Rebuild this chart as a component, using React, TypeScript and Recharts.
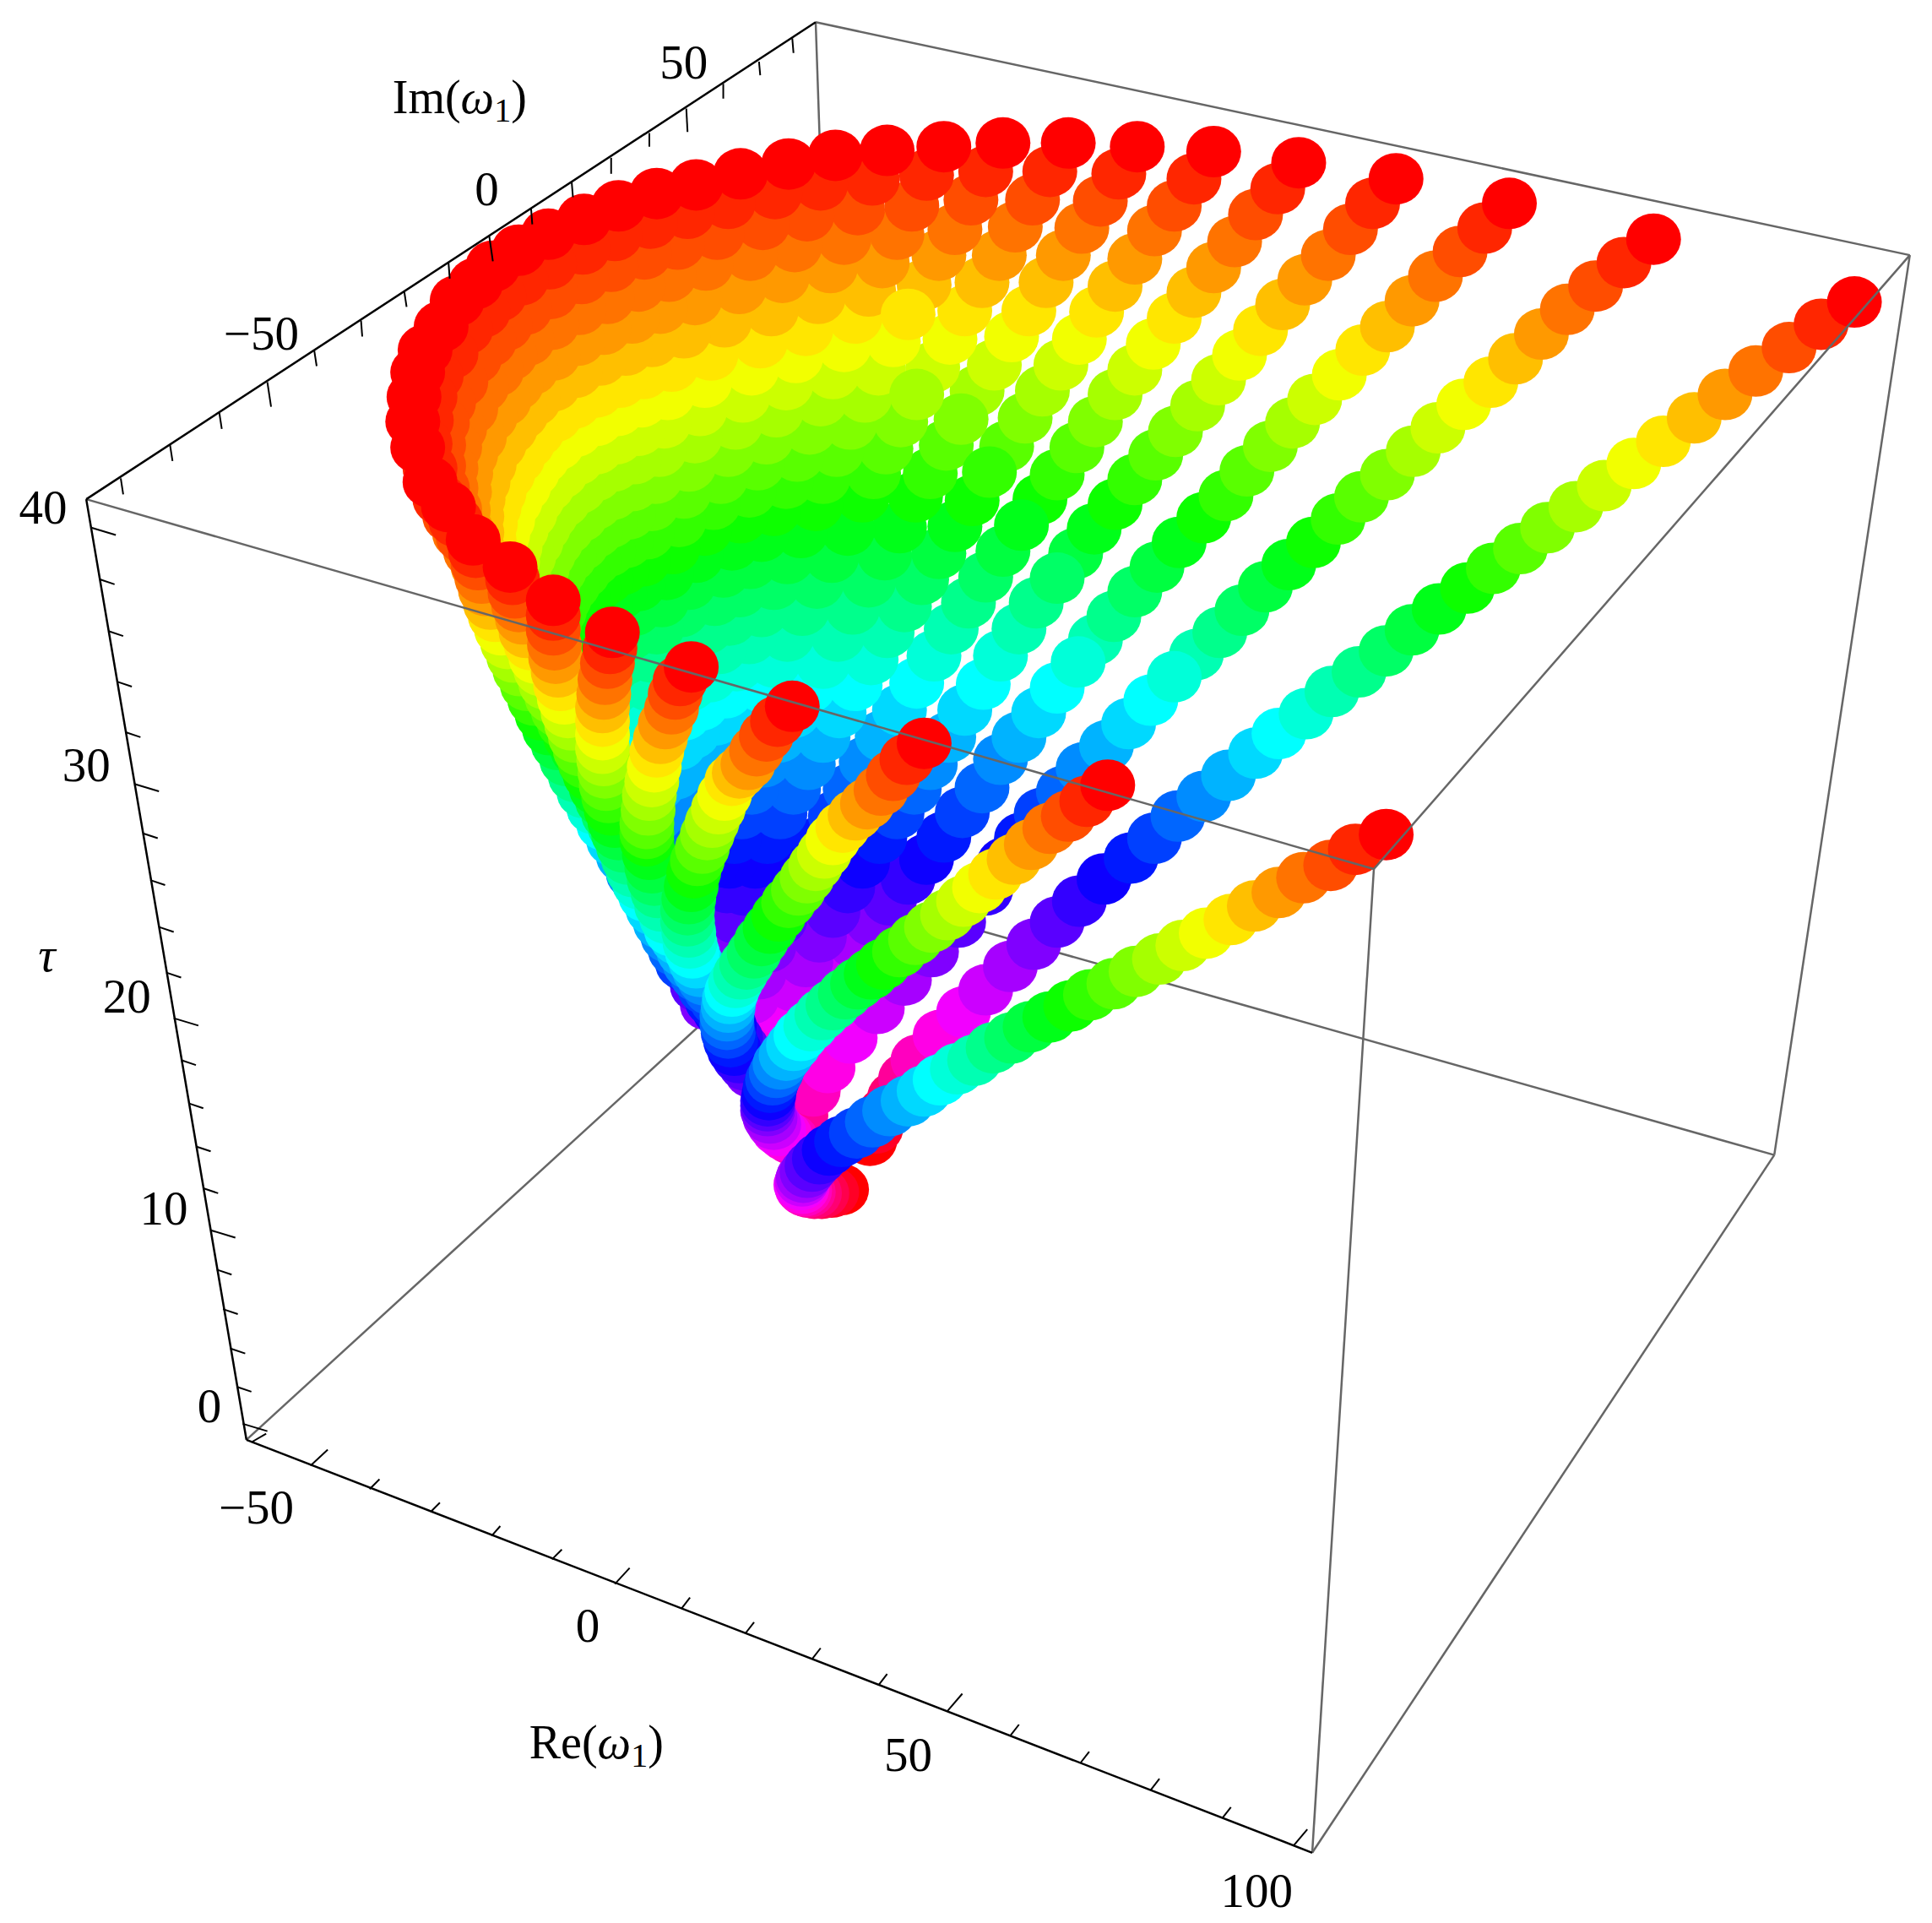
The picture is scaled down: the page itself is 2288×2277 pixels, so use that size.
import React from "react"
import { ScatterChart, Scatter, XAxis, YAxis } from "recharts"

// hue of a dot follows its place along a curve, tip (tau = 40) first
const huePalette = [
  "#ff0000", "#ff2600", "#ff4d00", "#ff7300", "#ff9900", "#ffbf00", "#ffe600", "#f2ff00", "#ccff00", "#a6ff00", "#80ff00",
  "#59ff00", "#33ff00", "#0dff00", "#00ff19", "#00ff40", "#00ff66", "#00ff8c", "#00ffb3", "#00ffd9", "#00ffff", "#00d9ff",
  "#00b3ff", "#008cff", "#0066ff", "#0040ff", "#0019ff", "#0d00ff", "#3300ff", "#5900ff", "#8000ff", "#a600ff", "#cc00ff",
  "#f200ff", "#ff00e6", "#ff00bf", "#ff0099", "#ff0073", "#ff004d", "#ff0026", "#ff0000",
]

type P = number[]

// projected positions, one list per trajectory
const r1: P[] = [[1505,245],[1478,263],[1452,282],[1425,301],[1400,320],[1375,339],[1350,358],[1326,376],[1302,394],[1279,411],[1256,428],[1234,445],[1212,461],[1191,477],[1168,494],[1146,511],[1125,528],[1103,545],[1081,561],[1060,579],[1038,595],[1019,611],[997,629],[977,646],[956,662],[937,680],[918,696],[896,713],[876,731],[858,748],[839,766],[820,784],[800,803],[782,821],[763,840],[745,860],[735,875],[726,890],[718,903],[711,915],[706,925]]
const b2: P[] = [[1342,194],[1318,213],[1295,232],[1272,251],[1251,271],[1230,291],[1210,310],[1188,328],[1167,347],[1147,366],[1126,385],[1105,403],[1086,421],[1066,440],[1046,458],[1027,476],[1008,495],[990,513],[971,531],[953,549],[934,568],[916,587],[898,605],[879,623],[863,642],[845,660],[829,680],[815,700],[800,722],[778,748],[756,772],[734,795],[712,818],[690,842],[672,866],[660,885],[650,905]]
const b3: P[] = [[1225,165],[1205,185],[1185,204],[1165,224],[1146,244],[1126,265],[1106,284],[1087,304],[1067,324],[1049,343],[1031,362],[1012,382],[995,402],[977,420],[957,440],[939,460],[921,480],[904,500],[889,519],[875,537],[858,558],[843,578],[827,598],[812,616],[797,639],[781,659],[766,679],[752,697],[737,713],[722,730],[708,747],[694,765],[680,783],[667,800],[655,818],[644,836],[635,854]]
const b4: P[] = [[1133,145],[1114,165],[1096,186],[1078,207],[1059,227],[1041,247],[1023,268],[1006,288],[989,308],[972,329],[954,350],[938,369],[921,389],[905,409],[888,429],[873,449],[858,469],[841,489],[827,510],[812,532],[798,555],[783,576],[770,598],[755,620],[742,640],[728,660],[714,680],[700,700],[688,720],[676,740],[665,760],[654,780],[644,800],[635,820],[628,840],[622,860]]
const b5: P[] = [[1054,132],[1037,153],[1019,174],[1002,196],[985,217],[969,237],[953,258],[936,279],[921,300],[905,320],[889,342],[874,363],[858,385],[844,405],[829,426],[814,447],[800,468],[786,489],[772,510],[758,532],[744,554],[730,576],[716,597],[703,618],[690,640],[678,662],[665,683],[654,704],[643,725],[633,746],[624,768],[616,790],[610,810]]
const b6: P[] = [[985,123],[969,145],[953,167],[937,187],[921,210],[905,232],[890,253],[876,275],[861,296],[846,317],[832,339],[817,362],[803,383],[789,406],[775,427],[762,449],[748,470],[734,492],[720,513],[707,535],[694,556],[681,578],[668,598],[656,620],[644,640],[633,660],[623,680],[613,700],[604,722],[597,745],[591,770],[590,790]]
const b7: P[] = [[923,119],[908,141],[893,163],[878,185],[863,207],[849,229],[835,252],[821,273],[807,296],[793,317],[780,340],[768,361],[755,384],[743,403],[730,428],[718,450],[705,472],[692,494],[680,516],[668,538],[656,558],[644,578],[632,598],[620,618],[610,640],[602,660],[596,680],[592,700],[590,720],[590,740]]
const b8: P[] = [[867,116],[852,139],[838,162],[824,184],[811,207],[797,229],[783,252],[771,275],[757,298],[744,320],[731,342],[719,364],[709,384],[700,403],[688,430],[675,452],[663,473],[651,495],[639,516],[628,537],[618,557],[607,578],[597,600],[589,620],[580,640],[575,660],[573,680],[578,700]]
const b9: P[] = [[814,116],[800,139],[788,162],[775,186],[762,207],[750,231],[737,255],[725,277],[713,300],[702,322],[690,344],[679,366],[668,388],[662,410],[650,432],[639,453],[628,474],[618,496],[608,518],[598,540],[589,562],[581,584],[574,606],[567,628],[561,650],[556,670]]
const b10: P[] = [[766,119],[752,142],[740,167],[728,190],[716,213],[705,236],[694,258],[685,281],[676,303],[666,325],[657,348],[647,370],[638,392],[628,414],[618,435],[609,457],[600,480],[592,503],[584,526],[576,549],[569,572],[562,595],[556,618],[551,641],[547,664],[544,686]]
const b11: P[] = [[720,122],[708,146],[696,170],[685,194],[674,217],[664,242],[654,268],[646,290],[638,312],[630,334],[622,356],[615,377],[608,399],[601,420],[594,442],[587,464],[580,487],[573,510],[566,533],[560,556],[555,580],[551,604],[548,628],[546,652],[545,675]]
const b12: P[] = [[678,126],[666,150],[655,175],[645,200],[635,225],[626,252],[617,278],[610,300],[603,322],[597,344],[591,366],[585,388],[579,409],[572,430],[565,452],[559,474],[553,496],[548,519],[543,542],[539,566],[536,590],[534,614],[533,638],[533,662]]
const b13: P[] = [[640,133],[629,157],[619,182],[609,207],[600,234],[588,261],[577,288],[572,310],[568,333],[564,355],[559,378],[555,400],[551,423],[546,445],[541,466],[537,488],[533,510],[529,533],[526,556],[524,580],[522,604],[521,628]]
const b14: P[] = [[601,141],[591,165],[582,190],[573,215],[564,243],[555,270],[545,297],[542,320],[539,343],[535,366],[532,388],[529,410],[525,433],[522,455],[518,475],[515,495],[511,515],[507,535],[504,555],[501,575],[498,595]]
const b15: P[] = [[565,150],[558,173],[550,198],[543,224],[536,250],[529,277],[522,303],[520,326],[518,349],[515,372],[513,394],[510,417],[508,440],[505,462],[503,482],[501,502],[499,522],[497,542],[495,562]]
const b16: P[] = [[533,157],[528,181],[523,206],[518,232],[513,258],[508,284],[503,310],[501,333],[500,356],[498,378],[497,401],[495,424],[494,447],[492,470],[491,490],[490,510],[489,530]]
const b17: P[] = [[502,167],[499,191],[496,216],[493,242],[490,267],[487,292],[484,318],[484,341],[484,364],[483,386],[483,409],[483,432],[482,455],[482,478],[482,498],[482,518]]
const b18: P[] = [[474,178],[473,202],[472,226],[470,251],[469,276],[467,302],[466,327],[467,350],[468,373],[470,396],[471,419],[472,442],[473,465],[474,488],[475,508]]
const b19: P[] = [[445,190],[446,214],[447,238],[448,263],[449,288],[449,313],[450,338],[452,361],[455,384],[457,407],[460,429],[462,452],[465,475],[467,498],[469,518]]
const b20: P[] = [[421,203],[423,227],[426,251],[428,276],[431,300],[433,325],[436,350],[440,372],[444,395],[447,418],[451,440],[454,463],[458,486],[462,508]]
const b21: P[] = [[400,216],[405,240],[410,264],[414,288],[419,312],[423,336],[428,360],[432,383],[436,405],[441,428],[445,450],[449,473],[454,496],[458,518]]
const b22: P[] = [[386,230],[392,253],[397,277],[403,301],[409,325],[414,348],[420,372],[425,395],[430,417],[435,440],[440,462],[445,485],[450,507],[455,530]]
const b23: P[] = [[371,244],[378,267],[385,291],[391,314],[398,338],[405,361],[412,385],[418,407],[423,430],[429,452],[435,475],[441,497],[446,520],[452,542]]
const b24: P[] = [[358,265],[366,287],[374,310],[382,332],[389,355],[397,377],[405,400],[412,422],[418,444],[425,466],[432,487],[439,509],[445,531],[452,553]]
const b25: P[] = [[345,284],[354,305],[364,327],[373,348],[382,369],[392,391],[401,412],[408,434],[416,456],[423,478],[430,500],[437,521],[445,543],[452,565]]
const b26: P[] = [[339,302],[349,322],[359,343],[369,363],[378,384],[388,405],[398,425],[406,446],[414,468],[422,489],[429,511],[437,532],[445,554],[453,575]]
const b27: P[] = [[336,322],[346,341],[356,361],[366,380],[377,399],[387,419],[397,438],[405,459],[414,480],[422,501],[430,522],[438,543],[447,564],[455,585]]
const b28: P[] = [[335,342],[345,360],[356,378],[366,396],[376,414],[387,432],[397,450],[405,470],[414,491],[423,511],[431,532],[440,552],[448,573],[456,593]]
const b29: P[] = [[339,363],[349,380],[359,396],[369,413],[378,429],[388,446],[398,462],[407,482],[415,501],[424,521],[432,541],[441,560],[449,580],[458,600]]
const b30: P[] = [[349,391],[357,405],[365,419],[373,433],[382,446],[390,460],[398,474],[407,493],[416,512],[425,531],[433,550],[442,569],[451,588],[460,607]]
const b31: P[] = [[364,411],[370,423],[376,436],[382,448],[388,460],[393,473],[399,485],[408,503],[417,521],[426,539],[435,557],[444,574],[453,592],[462,608]]
const f9: P[] = [[384,438],[386,448],[388,458],[391,469],[394,479],[398,490],[402,500],[407,511],[412,522],[417,533],[422,544],[428,556],[434,568],[440,580],[446,592],[453,604],[460,617],[467,630],[474,643],[482,656],[490,669],[498,682],[506,695],[514,709],[523,723],[532,738],[541,752],[550,768],[558,785],[566,800],[574,815]]
const f8: P[] = [[414,460],[416,470],[418,481],[421,492],[424,502],[427,513],[431,523],[435,534],[439,544],[443,555],[448,566],[453,577],[458,587],[463,598],[469,609],[475,620],[481,632],[487,643],[493,655],[500,667],[506,679],[513,691],[520,703],[527,715],[534,728],[541,740],[548,752]]
const f7: P[] = [[449,487],[449,499],[449,511],[450,523],[451,534],[453,545],[455,556],[458,567],[461,578],[464,588],[467,598],[471,609],[475,619],[479,629],[484,640],[489,650],[494,661],[499,671],[505,682],[511,693],[517,704],[523,714],[529,725],[535,736],[541,747],[547,758],[553,769]]
const f6: P[] = [[497,513],[495,526],[493,538],[491,551],[490,563],[489,574],[489,585],[489,596],[489,607],[490,617],[491,627],[492,637],[494,647],[496,657],[499,667],[502,677],[506,687],[510,697],[514,707],[519,717],[524,727],[530,738],[536,749],[542,760],[548,771],[554,782]]
const f5: P[] = [[561,541],[552,552],[548,563],[545,575],[540,587],[536,599],[533,610],[531,622],[529,634],[527,645],[526,657],[525,668],[525,676],[525,682],[527,693],[529,704],[531,714],[534,724],[537,735],[541,745],[545,755],[550,762],[555,772],[560,782],[566,792],[572,802],[578,812],[584,820]]
const f4: P[] = [[643,573],[631,585],[622,597],[614,609],[607,620],[600,627],[594,633],[588,645],[583,656],[578,667],[574,677],[570,688],[566,698],[563,708],[561,719],[559,729],[558,738],[558,747],[559,756],[560,765],[562,773],[565,781],[568,788],[572,795],[577,803],[582,812],[587,822],[592,832],[597,842],[602,850]]
const f3: P[] = [[750,603],[736,616],[725,629],[715,641],[704,652],[694,661],[684,671],[676,681],[669,692],[662,702],[655,712],[648,722],[640,732],[632,743],[625,753],[618,763],[612,773],[606,782],[601,790],[597,797],[594,804],[592,810],[591,817],[590,824],[590,831],[591,838],[593,845],[596,852],[600,858],[605,864],[610,870]]
const f2: P[] = [[899,637],[882,650],[867,662],[852,672],[837,685],[823,697],[808,709],[795,720],[782,731],[769,742],[756,752],[743,762],[730,772],[717,782],[707,790],[696,798],[686,806],[676,815],[667,823],[658,832],[650,840],[644,848],[638,856],[633,863],[630,870],[627,876],[625,882],[624,888],[623,893],[623,897],[623,901],[625,907],[628,912],[632,917],[637,921],[642,924],[648,926]]
const f1: P[] = [[1125,677],[1100,689],[1080,702],[1058,712],[1038,724],[1018,735],[999,746],[979,757],[960,767],[941,778],[922,788],[904,798],[885,807],[869,816],[852,825],[836,833],[821,842],[806,850],[791,860],[777,867],[763,876],[750,885],[737,893],[722,901],[708,910],[695,919],[683,926],[673,933],[665,940],[659,946],[655,951],[652,955],[651,958],[650,961],[651,964],[653,966],[656,967],[661,968],[667,968],[675,967],[683,965]]

const backCurves = [b2, b3, b4, b5, b6, b7, b8, b9, b10, b11, b12, b13, b14, b15, b16, b17, b18, b19, b20, b21, b22, b23, b24, b25, b26, b27, b28, b29, b30, b31]
const frontCurves = [f9, f8, f7, f6, f5, f4, f3, r1, f2, f1]
// the dot on each trajectory that the plot's depth sort lifts above its neighbours
const liftedDot = new Map<P[], number>([[b2, 19], [b3, 19], [b4, 16], [b5, 14], [b6, 12], [b7, 10], [b8, 9], [b9, 6]])

const backEdges = [
  [[662,18],[1550,207]], [[662,18],[686,724]], [[686,724],[200,1168]], [[686,724],[1440,937]],
  [[1550,207],[1440,937]], [[1440,937],[1065,1503]],
]
const frontEdges = [[[70,405],[1115,705]], [[1115,705],[1550,207]], [[1115,705],[1065,1503]]]
const axisEdges = [[[70,405],[662,18]], [[70,405],[200,1168]], [[200,1168],[1065,1503]]]

const ticksIm = [
  [[98,388],[100,401]], [[138,361],[140,374]], [[178,335],[180,348]], [[217,310],[220,330]], [[255,284],[257,297]], [[293,260],[294,273]],
  [[328,236],[330,249]], [[364,213],[365,226]], [[397,191],[400,212]], [[431,169],[432,182]], [[464,148],[465,160]], [[496,128],[496,141]],
  [[527,108],[527,119]], [[557,88],[558,107]], [[587,68],[587,80]], [[616,50],[617,61]], [[643,31],[644,43]],
]
const ticksRe = [
  [[204,1170],[216,1163]], [[252,1189],[266,1176]], [[300,1208],[308,1200]], [[350,1226],[357,1219]], [[399,1246],[406,1238]], [[448,1265],[456,1257]],
  [[499,1285],[511,1272]], [[553,1305],[560,1296]], [[605,1325],[612,1316]], [[659,1346],[666,1337]], [[713,1367],[720,1358]], [[769,1388],[781,1374]],
  [[820,1408],[827,1399]], [[877,1430],[884,1421]], [[934,1452],[941,1443]], [[992,1475],[999,1466]], [[1050,1497],[1061,1484]],
]
const ticksTau = [
  [[74,428],[94,434]], [[81,470],[93,474]], [[88,512],[100,516]], [[95,553],[107,557]], [[102,594],[114,598]], [[109,636],[129,642]],
  [[116,676],[128,680]], [[122,714],[134,718]], [[129,752],[141,756]], [[135,789],[147,793]], [[141,826],[161,832]], [[147,860],[159,864]],
  [[153,895],[165,899]], [[159,930],[171,934]], [[165,964],[177,968]], [[171,998],[191,1004]], [[176,1030],[188,1034]], [[181,1062],[193,1066]],
  [[187,1094],[199,1098]], [[192,1125],[204,1129]], [[197,1155],[217,1161]],
]

const tickLabels = [
  { x: 35, y: 411, text: "40" }, { x: 70, y: 620, text: "30" }, { x: 103, y: 808, text: "20" }, { x: 133, y: 980, text: "10" }, { x: 170, y: 1140, text: "0" },
  { x: 208, y: 1222, text: "\u221250" }, { x: 477, y: 1318, text: "0" }, { x: 737, y: 1423, text: "50" }, { x: 1020, y: 1533, text: "100" },
  { x: 212, y: 270, text: "\u221250" }, { x: 395, y: 153, text: "0" }, { x: 555, y: 50, text: "50" },
]
const axisTitles = [{ x: 484, y: 1415, text: "Re" }, { x: 373, y: 80, text: "Im" }]
const tauTitle = [{ x: 38, y: 780, text: "\u03c4" }]

const SERIF = "'Liberation Serif', serif"

const Dot = (props: any) => (
  <ellipse cx={props.cx} cy={props.cy} rx={32.5} ry={30.5} fill={huePalette[props.payload.hue]} />
)
const NoDot = () => null
const TickText = (props: any) => (
  <text x={props.cx} y={props.cy} dy="0.35em" textAnchor="middle" fontFamily={SERIF} fontSize={57} fill="#000">
    {props.payload.text}
  </text>
)
const TauText = (props: any) => (
  <text x={props.cx} y={props.cy} dy="0.2em" textAnchor="middle" fontFamily={SERIF} fontStyle="italic" fontSize={57} fill="#000">
    {props.payload.text}
  </text>
)
const TitleText = (props: any) => (
  <text x={props.cx} y={props.cy} dy="0.3em" textAnchor="middle" fontFamily={SERIF} fontSize={56} fill="#000">
    {props.payload.text}(<tspan fontStyle="italic">{"\u03c9"}</tspan>
    <tspan fontSize={40} dy="10">1</tspan>
    <tspan dy="-10">)</tspan>
  </text>
)

const withHue = (curve: P[]) => curve.map(([x, y], hue) => ({ x, y, hue, lifted: liftedDot.get(curve) === hue }))

// back trajectories form a shell: inner rings first, tips last
const backDots = backCurves.flatMap(withHue)
const shell = backDots.filter((d) => !d.lifted).sort((a, b) => b.hue - a.hue)
const shellLifted = backDots.filter((d) => d.lifted)

const frontDots = (curve: P[]) => withHue(curve).reverse()

const segment = (seg: number[][]) => seg.map(([x, y]) => ({ x, y }))

const edge = (seg: number[][], key: string, stroke: string, width: number) => (
  <Scatter
    key={key}
    data={segment(seg)}
    line={{ stroke, strokeWidth: width }}
    shape={NoDot}
    isAnimationActive={false}
  />
)

export default function App() {
  return (
    <div style={{ position: "absolute", left: 0, top: 0, width: 2288, height: 2277, background: "#fff" }}>
      <ScatterChart width={2288} height={2277} margin={{ top: 0, right: 0, bottom: 0, left: 0 }}>
        <XAxis type="number" dataKey="x" domain={[0, 1568]} hide />
        <YAxis type="number" dataKey="y" domain={[0, 1560]} reversed hide />
        {backEdges.map((e, i) => edge(e, `back-${i}`, "#666", 2.5))}
        <Scatter data={shell} shape={Dot} isAnimationActive={false} />
        <Scatter data={shellLifted} shape={Dot} isAnimationActive={false} />
        {frontCurves.map((c, i) => (
          <Scatter key={`curve-${i}`} data={frontDots(c)} shape={Dot} isAnimationActive={false} />
        ))}
        {frontEdges.map((e, i) => edge(e, `front-${i}`, "#666", 2.5))}
        {axisEdges.map((e, i) => edge(e, `axis-${i}`, "#000", 2.5))}
        {[...ticksIm, ...ticksRe, ...ticksTau].map((e, i) => edge(e, `tick-${i}`, "#000", 2))}
        <Scatter data={tickLabels} shape={TickText} isAnimationActive={false} />
        <Scatter data={axisTitles} shape={TitleText} isAnimationActive={false} />
        <Scatter data={tauTitle} shape={TauText} isAnimationActive={false} />
      </ScatterChart>
    </div>
  )
}
